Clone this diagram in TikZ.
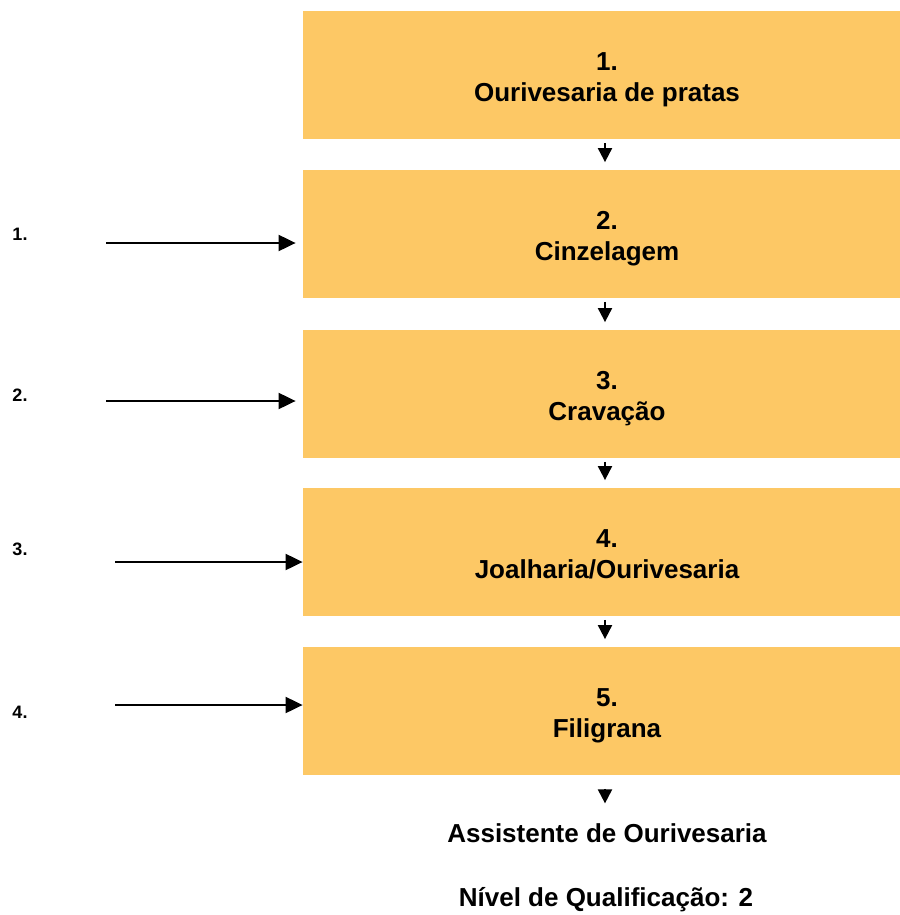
\documentclass[tikz,border=0pt]{standalone}
\usepackage{fontspec}
\setmainfont{Liberation Sans}
\usepackage{xcolor}
\usetikzlibrary{arrows.meta,calc}
\definecolor{boxfill}{HTML}{FDC865}

\tikzset{
  etapa/.style={fill=boxfill, minimum width=304pt, minimum height=64pt, inner sep=0pt,
    text height=26.5pt, text depth=0pt,
    align=center, font=\bfseries\fontsize{13}{15.5}\selectfont},
  fim/.style={align=center, font=\bfseries\fontsize{13}{15}\selectfont},
  lado/.style={font=\bfseries\fontsize{9}{10}\selectfont},
  seta/.style={line width=1pt, -{Triangle[length=7pt,width=7pt]}, shorten <=2pt, shorten >=3.5pt},
  entrada/.style={line width=1pt, -{Triangle[length=8.5pt,width=8pt]}}
}

\begin{document}
\begin{tikzpicture}[x=0.5pt,y=-0.5pt]
\useasboundingbox (0,0) rectangle (899,915);

% etapas
\node[etapa] (e1) at (607,75)    {1.\\Ourivesaria de pratas};
\node[etapa] (e2) at (607,233.5) {2.\\Cinzelagem};
\node[etapa] (e3) at (607,393.5) {3.\\Crava\c{c}\~ao};
\node[etapa] (e4) at (607,551.5) {4.\\Joalharia/Ourivesaria};
\node[etapa] (e5) at (607,710.5) {5.\\Filigrana};

\node[fim] (saida) at (607,833) {Assistente de Ourivesaria};
\node[fim] (nivel) at (606,900) {N\'ivel de Qualifica\c{c}\~ao: 2};

\draw[seta] (e1.south -| 605,0) -- (e2.north -| 605,0);
\draw[seta] (e2.south -| 605,0) -- (e3.north -| 605,0);
\draw[seta] (e3.south -| 605,0) -- (e4.north -| 605,0);
\draw[seta] (e4.south -| 605,0) -- (e5.north -| 605,0);
\draw[seta, shorten <=7pt, shorten >=6.5pt] (e5.south -| 605,0) -- (saida.north -| 605,0);

% entradas
\node[lado] (l1) at (20,234.5) {1.};
\node[lado] (l2) at (20,395)   {2.};
\node[lado] (l3) at (20,549.5) {3.};
\node[lado] (l4) at (20,712.5) {4.};

\coordinate (in1) at (106,243);
\coordinate (in2) at (106,401);
\coordinate (in3) at (115,562);
\coordinate (in4) at (115,705);

\draw[entrada, shorten >=3.5pt] (in1) -- (in1 -| e2.west);
\draw[entrada, shorten >=3.5pt] (in2) -- (in2 -| e3.west);
\draw[entrada] (in3) -- (in3 -| e4.west);
\draw[entrada] (in4) -- (in4 -| e5.west);
\end{tikzpicture}
\end{document}
